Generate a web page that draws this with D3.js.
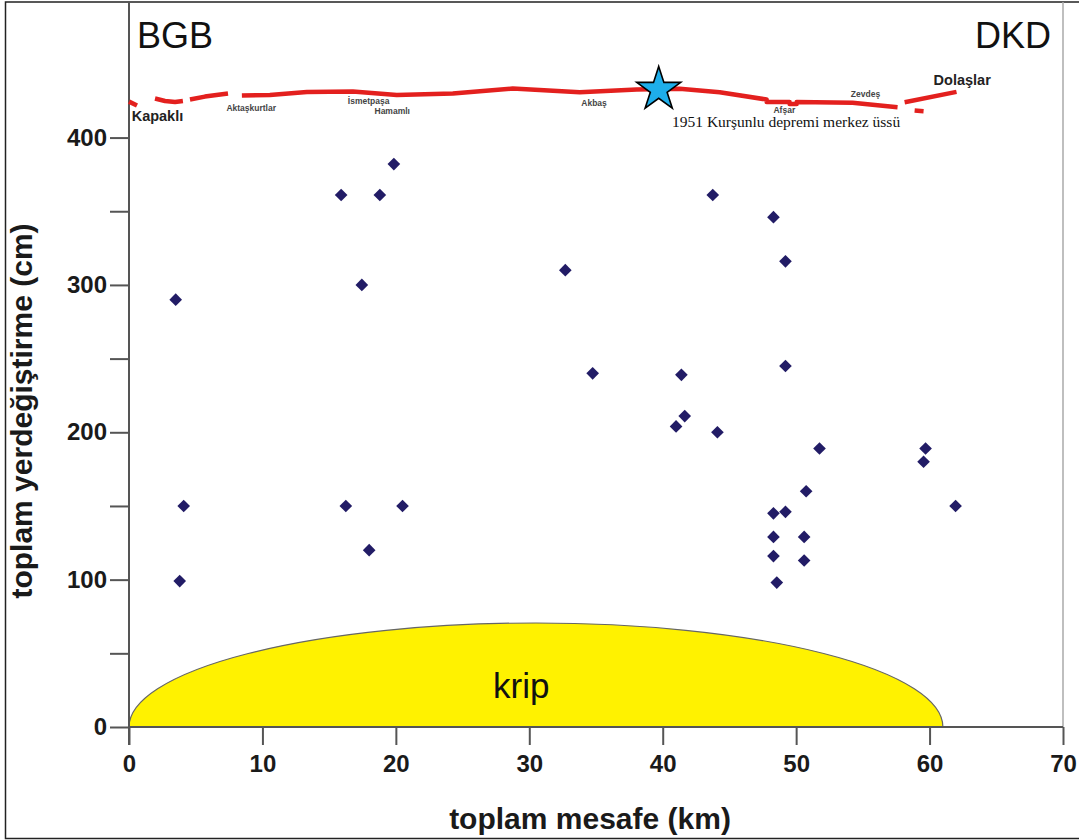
<!DOCTYPE html>
<html>
<head>
<meta charset="utf-8">
<script src="https://cdn.jsdelivr.net/npm/d3@7"></script>
<style>
  body { margin: 0; background: #fff; }
  svg { display: block; }
</style>
</head>
<body>
<script>
// toplam mesafe (km) / toplam yerdeğiştirme (cm)
const distKm = [3.5, 4.1, 3.8, 15.9, 18.8, 19.85, 17.45, 16.25, 18.0, 20.5,
  32.7, 34.75, 41.4, 41.65, 41.0, 43.75, 44.1, 48.3, 49.2, 49.2,
  51.75, 50.75, 48.3, 49.2, 48.3, 50.6, 48.3, 50.6, 48.55, 59.7, 59.55, 61.95];
const slipCm = [290, 150, 99, 361, 361, 382, 300, 150, 120, 150,
  310, 240, 239, 211, 204, 361, 200, 346, 316, 245,
  189, 160, 145, 146, 129, 129, 116, 113, 98, 189, 180, 150];

const xTicks = [0, 10, 20, 30, 40, 50, 60, 70];
const yTicks = [0, 50, 100, 150, 200, 250, 300, 350, 400];

// fault trace, each piece as [km, cm] pairs
const faultTrace = [
  [[0, 424.4], [0.6, 421.7]],
  [[1.95, 426.5], [2.7, 424.8], [3.45, 424.1], [4.04, 424.8]],
  [[4.57, 425.8], [5.69, 427.8], [7.42, 429.9]],
  [[8.46, 428.5], [10.56, 428.9], [13.33, 430.9], [16.78, 431.2], [20.07, 428.9],
   [24.27, 429.9], [28.76, 433.3], [33.78, 430.8], [38.05, 432.6], [41.27, 433.1],
   [44.27, 430.8], [47.79, 425.8], [47.79, 424.1], [49.51, 424.2], [49.51, 422.7],
   [50.04, 422.7], [50.04, 424.1], [54.23, 423.6], [57.6, 420.6]],
  [[58.13, 424.0], [62.02, 431.0]],
  [[58.88, 418.3], [59.55, 417.8]]
];

const towns = ["Kapaklı", "Aktaşkurtlar", "İsmetpaşa", "Hamamlı", "Akbaş", "Afşar", "Zevdeş", "Dolaşlar"];
const townKm = [0.2, 7.3, 16.4, 18.4, 33.9, 48.3, 54.1, 60.3];
const townBig = [true, false, false, false, false, false, false, true];

const quake = { km: 39.7, cm: 432.6, label: "1951 Kurşunlu depremi merkez üssü" };
const creep = { from: 0, to: 61, top: 70.6, label: "krip" };

const svg = d3.select("body").append("svg")
  .attr("width", 1079).attr("height", 840);

const x = d3.scaleLinear().domain([0, 70]).range([129, 1063]);
const y = d3.scaleLinear().domain([0, 492]).range([727, 2]);

const font = "'Liberation Sans', Arial, sans-serif";

// outer frame
svg.append("rect")
  .attr("x", 5.5).attr("y", 2).attr("width", 1090).attr("height", 836.5)
  .style("fill", "none").style("stroke", "#222").style("stroke-width", 1.5);

// right border of plot
svg.append("line")
  .attr("x1", x(70)).attr("x2", x(70)).attr("y1", y(492)).attr("y2", y(0))
  .style("stroke", "#aaa").style("stroke-width", 1.5);

// creep half ellipse
const rx = (x(creep.to) - x(creep.from)) / 2;
const ry = y(0) - y(creep.top);
svg.append("path")
  .attr("d", `M${x(creep.from)},${y(0)} A${rx},${ry} 0 0 1 ${x(creep.to)},${y(0)} Z`)
  .style("fill", "#fff200").style("stroke", "#666").style("stroke-width", 1.2);

svg.append("text")
  .attr("x", x(30) - 8).attr("y", 698)
  .attr("text-anchor", "middle")
  .style("font-family", font).style("font-size", "35px").style("fill", "#111")
  .text(creep.label);

// axes
const yAxis = svg.append("g")
  .attr("transform", `translate(${x(0)},0)`)
  .call(d3.axisLeft(y).tickValues(yTicks).tickSize(19).tickPadding(3)
    .tickFormat(d => d % 100 === 0 ? d : ""));
yAxis.select(".domain").remove();
yAxis.selectAll("line").style("stroke", "#555").style("stroke-width", 2);
yAxis.selectAll("text")
  .style("font-family", font).style("font-size", "24px").style("font-weight", "bold")
  .style("fill", "#1a1a1a");

const xAxis = svg.append("g")
  .attr("transform", `translate(0,${y(0)})`)
  .call(d3.axisBottom(x).tickValues(xTicks).tickSize(18).tickPadding(10));
xAxis.select(".domain").remove();
xAxis.selectAll("line").style("stroke", "#555").style("stroke-width", 2);
xAxis.selectAll("text")
  .style("font-family", font).style("font-size", "24px").style("font-weight", "bold")
  .style("fill", "#1a1a1a");

svg.append("line")
  .attr("x1", x(0)).attr("x2", x(70)).attr("y1", y(0)).attr("y2", y(0))
  .style("stroke", "#555").style("stroke-width", 2);
svg.append("line")
  .attr("x1", x(0)).attr("x2", x(0)).attr("y1", y(492)).attr("y2", y(0) + 18)
  .style("stroke", "#555").style("stroke-width", 2);

// axis titles
svg.append("text")
  .attr("x", 590).attr("y", 829).attr("text-anchor", "middle")
  .style("font-family", font).style("font-size", "30px").style("font-weight", "bold")
  .style("fill", "#1a1a1a")
  .text("toplam mesafe (km)");

svg.append("text")
  .attr("transform", "translate(32,411) rotate(-90)").attr("text-anchor", "middle")
  .style("font-family", font).style("font-size", "30px").style("font-weight", "bold")
  .style("fill", "#1a1a1a")
  .text("toplam yerdeğiştirme (cm)");

// corner labels
svg.append("text")
  .attr("x", 137).attr("y", 48)
  .style("font-family", font).style("font-size", "36px").style("fill", "#111")
  .text("BGB");
svg.append("text")
  .attr("x", 1051).attr("y", 48).attr("text-anchor", "end")
  .style("font-family", font).style("font-size", "36px").style("fill", "#111")
  .text("DKD");

// fault trace
const line = d3.line().x(d => x(d[0])).y(d => y(d[1]));
svg.selectAll("path.fault").data(faultTrace).enter().append("path")
  .attr("class", "fault")
  .attr("d", line)
  .style("fill", "none").style("stroke", "#e3201e").style("stroke-width", 4.5)
  .style("stroke-linejoin", "round");

// town labels
const townDy = [121, 111, 104, 114, 106, 113, 96.5, 85];
svg.selectAll("text.town").data(towns).enter().append("text")
  .attr("class", "town")
  .attr("x", (d, i) => x(townKm[i]))
  .attr("y", (d, i) => townDy[i])
  .style("font-family", font)
  .style("font-weight", "bold")
  .style("font-size", (d, i) => townBig[i] ? "14.5px" : "8.5px")
  .style("fill", (d, i) => townBig[i] ? "#222" : "#444")
  .text(d => d);

// epicentre
svg.append("path")
  .attr("d", d3.symbol().type(d3.symbolStar).size(600)())
  .attr("transform", `translate(${x(quake.km)},${y(quake.cm)})`)
  .style("fill", "#1eaeea").style("stroke", "#000").style("stroke-width", 1.6);

svg.append("text")
  .attr("x", 672).attr("y", 127)
  .style("font-family", "'Liberation Serif', 'Times New Roman', serif")
  .style("font-size", "15.5px").style("fill", "#111")
  .text(quake.label);

// measurements
svg.selectAll("path.pt").data(distKm).enter().append("path")
  .attr("class", "pt")
  .attr("d", d3.symbol().type(d3.symbolSquare).size(80)())
  .attr("transform", (d, i) => `translate(${x(d)},${y(slipCm[i])}) rotate(45)`)
  .style("fill", "#221c66");
</script>
</body>
</html>
